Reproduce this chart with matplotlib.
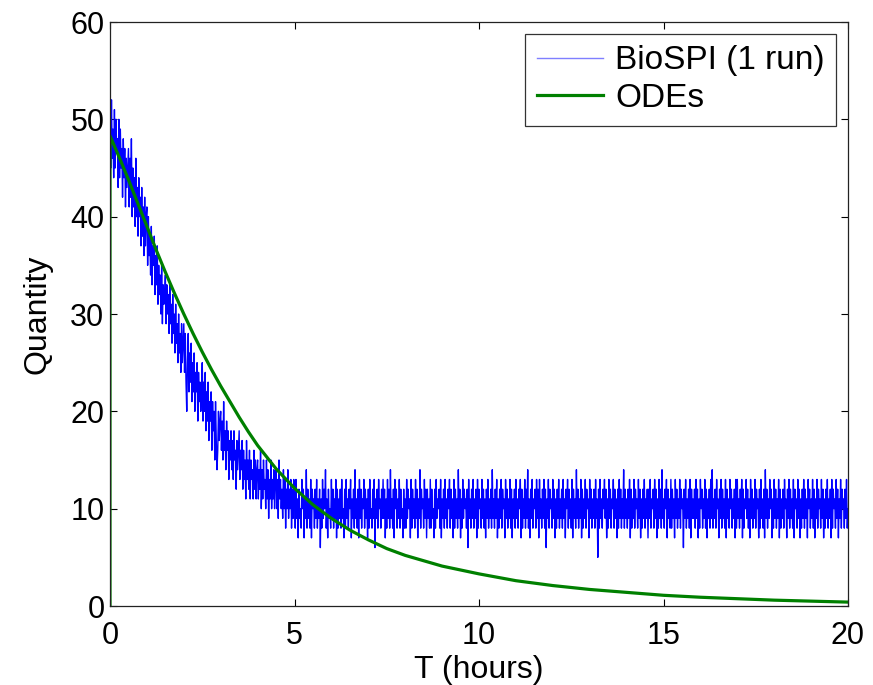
import numpy as np
import matplotlib
matplotlib.use("Agg")
import matplotlib.pyplot as plt

plt.rcParams['font.family'] = ['Liberation Sans', 'DejaVu Sans']

biospi_transient = [
    51, 45, 52, 46, 49, 44, 51, 45, 50, 47, 48, 43, 50, 44, 49, 45, 47, 42, 48, 44, 47, 41, 46, 43, 45,
    47, 41, 46, 42, 48, 40, 45, 41, 44, 39, 46, 40, 43, 38, 44, 40, 42, 37, 43, 38, 41, 36, 42, 37, 40,
    41, 35, 40, 36, 38, 34, 39, 33, 37, 35, 38, 32, 36, 33, 37, 31, 35, 32, 34, 30, 35, 29, 33, 31, 32,
    34, 29, 33, 30, 32, 28, 33, 29, 31, 27, 32, 28, 30, 26, 31, 27, 29, 25, 30, 26, 28, 24, 29, 25, 27,
    29, 24, 28, 23, 20, 25, 28, 22, 26, 23, 27, 21, 25, 22, 26, 20, 24, 22, 25, 19, 24, 21, 23, 20, 22,
    25, 19, 23, 20, 24, 18, 22, 19, 23, 17, 21, 19, 22, 16, 21, 18, 20, 15, 21, 17, 14, 16, 20, 17, 19,
    20, 16, 19, 15, 21, 16, 18, 14, 19, 16, 18, 13, 17, 15, 18, 14, 17, 13, 18, 15, 16, 12, 17, 14, 16,
    18, 13, 16, 14, 17, 12, 16, 13, 15, 11, 17, 13, 15, 12, 16, 11, 15, 13, 14, 11, 16, 12, 15, 11, 14,
    15, 11, 14, 12, 16, 10, 14, 11, 15, 12, 13, 10, 15, 11, 14, 9, 13, 11, 15, 10, 13, 11, 14, 10, 13,
    14, 10, 13, 9, 15, 11, 13, 10, 12, 9, 14, 10, 13, 8, 12, 10, 14, 9, 12, 10, 13, 8, 12, 9, 13,
]
biospi_plateau = [
    12, 8, 13, 9, 11, 7, 12, 9, 10, 8, 13, 10, 12, 7, 11, 9, 14, 8, 12, 9, 11, 8, 13, 7, 12, 10, 11, 8, 12, 9,
    13, 8, 11, 9, 12, 6, 11, 8, 13, 9, 12, 10, 14, 8, 11, 7, 12, 9, 10, 8, 13, 9, 12, 8, 11, 9, 13, 7, 12, 8,
    11, 9, 12, 8, 13, 9, 10, 7, 12, 8, 13, 9, 11, 8, 12, 10, 13, 7, 11, 9, 12, 8, 14, 9, 11, 8, 12, 7, 13, 9,
    12, 8, 11, 10, 13, 8, 12, 9, 11, 7, 12, 8, 13, 9, 10, 8, 12, 9, 13, 6, 11, 9, 12, 8, 13, 10, 11, 8, 12, 9,
    13, 9, 12, 7, 11, 8, 13, 9, 12, 8, 14, 9, 11, 8, 12, 7, 13, 10, 12, 8, 11, 9, 13, 8, 12, 9, 10, 7, 12, 8,
    11, 8, 13, 9, 12, 10, 11, 7, 13, 8, 12, 9, 11, 8, 13, 9, 12, 7, 11, 9, 14, 8, 12, 10, 11, 8, 13, 9, 12, 7,
    12, 9, 11, 8, 13, 8, 12, 9, 10, 7, 12, 8, 13, 9, 11, 10, 12, 8, 13, 7, 11, 9, 12, 8, 13, 9, 11, 8, 12, 10,
    13, 8, 12, 9, 11, 7, 13, 8, 12, 9, 11, 8, 14, 9, 12, 7, 11, 8, 13, 9, 12, 10, 11, 8, 12, 6, 13, 9, 11, 8,
    12, 9, 13, 8, 11, 9, 12, 7, 13, 8, 12, 10, 11, 8, 13, 9, 12, 8, 11, 7, 12, 9, 13, 8, 11, 9, 12, 8, 14, 9,
    11, 8, 12, 9, 13, 7, 11, 8, 12, 9, 13, 8, 12, 10, 11, 7, 13, 9, 12, 8, 11, 9, 13, 8, 12, 7, 11, 9, 12, 8,
    13, 9, 11, 8, 12, 10, 13, 7, 12, 8, 11, 9, 13, 8, 12, 9, 14, 8, 11, 7, 12, 9, 13, 8, 11, 10, 12, 8, 13, 9,
    12, 7, 13, 9, 11, 8, 12, 9, 13, 8, 12, 6, 11, 9, 13, 8, 12, 10, 11, 8, 13, 9, 12, 7, 11, 8, 12, 9, 13, 8,
    11, 9, 12, 8, 13, 9, 11, 7, 12, 10, 13, 8, 12, 9, 11, 8, 13, 7, 12, 9, 11, 8, 14, 9, 12, 8, 11, 9, 13, 7,
    12, 8, 11, 9, 13, 8, 12, 10, 11, 7, 13, 9, 12, 8, 11, 9, 12, 8, 13, 9, 11, 5, 12, 8, 13, 9, 11, 8, 12, 10,
    13, 9, 12, 7, 11, 8, 13, 9, 12, 8, 11, 10, 13, 8, 12, 9, 11, 7, 12, 8, 13, 9, 12, 8, 11, 9, 14, 8, 12, 9,
    11, 8, 12, 9, 13, 7, 12, 8, 11, 9, 13, 8, 12, 10, 11, 8, 13, 9, 12, 7, 11, 8, 12, 9, 13, 8, 11, 9, 12, 7,
    12, 9, 13, 8, 11, 10, 12, 8, 13, 9, 12, 7, 11, 8, 13, 9, 12, 8, 14, 9, 11, 8, 12, 10, 13, 7, 12, 9, 11, 8,
    13, 8, 12, 9, 11, 7, 13, 9, 12, 8, 11, 9, 13, 8, 12, 10, 11, 6, 12, 9, 13, 8, 11, 9, 12, 8, 13, 7, 12, 9,
    11, 9, 12, 8, 13, 9, 12, 7, 11, 8, 13, 10, 12, 8, 11, 9, 13, 8, 12, 7, 11, 9, 12, 8, 13, 9, 14, 8, 11, 9,
    12, 8, 13, 10, 11, 7, 12, 9, 13, 8, 12, 9, 11, 8, 13, 7, 12, 9, 11, 8, 13, 10, 12, 8, 11, 9, 12, 7, 13, 8,
    13, 9, 11, 8, 12, 9, 13, 7, 12, 8, 11, 10, 13, 9, 12, 8, 11, 7, 13, 9, 12, 8, 11, 9, 13, 8, 12, 10, 11, 7,
    12, 8, 13, 9, 11, 8, 12, 7, 14, 9, 12, 8, 11, 9, 13, 10, 12, 7, 11, 8, 13, 9, 12, 8, 11, 9, 13, 7, 12, 8,
    11, 9, 12, 8, 13, 10, 11, 7, 12, 9, 13, 8, 12, 9, 11, 8, 13, 7, 12, 10, 11, 8, 13, 9, 12, 7, 11, 8, 12, 9,
    13, 8, 12, 9, 11, 7, 13, 10, 12, 8, 11, 9, 13, 8, 12, 7, 11, 9, 13, 8, 12, 10, 11, 8, 13, 9, 12, 7, 11, 8,
    12, 9, 13, 8, 11, 9, 12, 7, 13, 8, 12, 10, 11, 8, 13, 9, 12, 7, 11, 9, 13, 8, 12, 10, 11, 8, 12, 9, 13, 8,
    10,
]
biospi_values = biospi_transient + biospi_plateau
biospi_t = np.linspace(0, 20, len(biospi_values))

# ODE solution
ode_t = [0, 0, 0.25, 0.5, 0.75, 1, 1.25, 1.5, 1.75, 2, 2.25, 2.5, 2.75, 3, 3.25, 3.5,
         3.75, 4, 4.5, 5, 5.5, 6, 6.5, 7, 7.5, 8, 9, 10, 11, 12, 13, 14, 15, 16,
         17, 18, 19, 20]
ode_values = [0, 48.3, 46.1, 43.8, 41.4, 39.0, 36.6, 34.3, 32.1, 30.0, 28.0, 26.1,
              24.3, 22.6, 21.0, 19.4, 17.9, 16.5, 14.1, 12.1, 10.4, 9.0, 7.8, 6.8,
              5.9, 5.2, 4.1, 3.3, 2.6, 2.1, 1.7, 1.4, 1.1, 0.9, 0.75, 0.6, 0.5, 0.4]

x_ticks = [0, 5, 10, 15, 20]
y_ticks = [0, 10, 20, 30, 40, 50, 60]

fig = plt.figure(figsize=(8.73, 6.85), dpi=100)
ax = fig.add_axes([110 / 873, 79 / 685, 738 / 873, 584 / 685])

ax.plot(biospi_t, biospi_values, color=(0, 0, 1), lw=1.0, label='BioSPI (1 run)')
ax.plot(ode_t, ode_values, color=(0, 0.5, 0), lw=2.3, label='ODEs')

ax.set_xlim(0, 20)
ax.set_ylim(0, 60)
ax.set_xticks(x_ticks)
ax.set_yticks(y_ticks)
ax.tick_params(direction='in', top=True, right=True, length=5, width=0.8,
               labelsize=22)
ax.tick_params(axis='x', pad=11)
ax.tick_params(axis='y', pad=4)
for s in ax.spines.values():
    s.set_linewidth(0.9)
    s.set_color('#222222')

ax.set_xlabel('T (hours)', fontsize=23, labelpad=3)
ax.set_ylabel('Quantity', fontsize=23, labelpad=13)

leg = ax.legend(loc='upper right', fontsize=24, frameon=True, fancybox=False,
                edgecolor='black', handlelength=2.0, handletextpad=0.35,
                borderpad=0.35, labelspacing=0.2, borderaxespad=0.35)
leg.get_frame().set_linewidth(0.9)
leg.get_lines()[0].set_linewidth(1.0)
leg.get_lines()[0].set_color('#7f7fff')

fig.savefig('out.png', dpi=100)
